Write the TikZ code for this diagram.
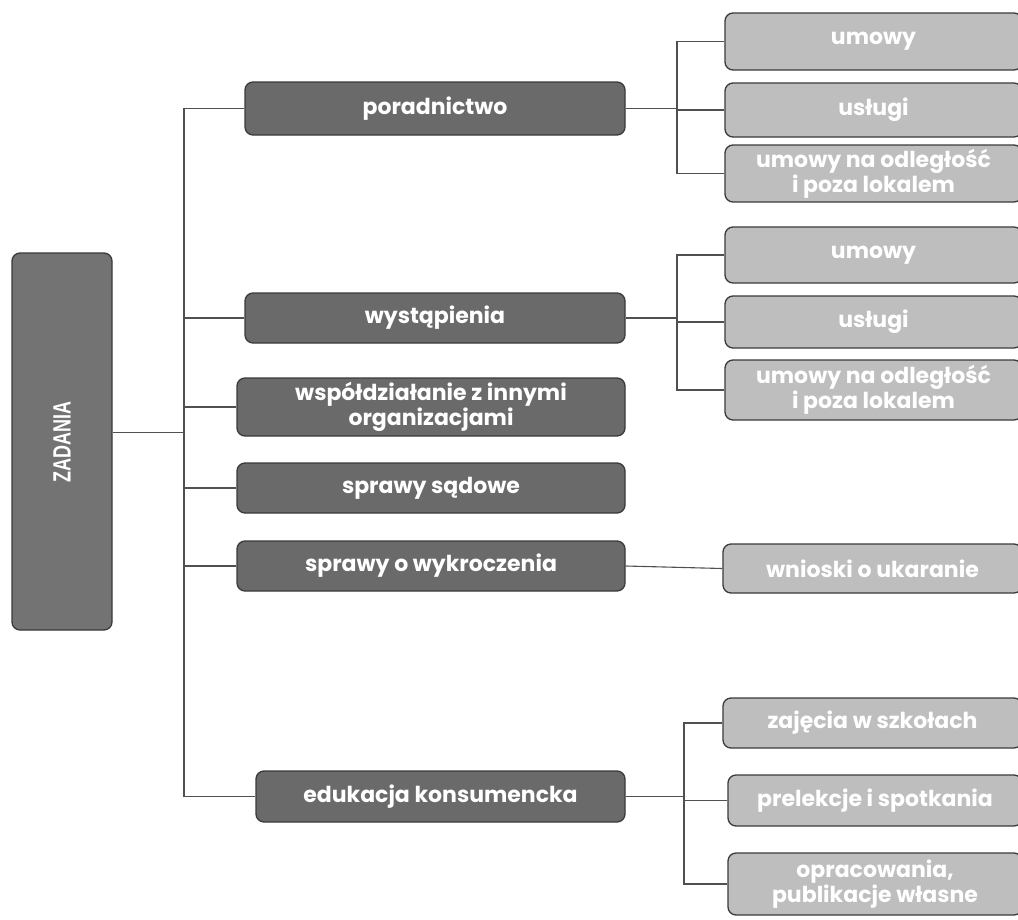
\documentclass[tikz,border=0pt]{standalone}
\usepackage{graphicx}
\usepackage{fontspec}
\setmainfont{Poppins}
\newfontfamily\narrowfont[FakeStretch=0.72]{Liberation Sans Bold}

\definecolor{rootgray}{HTML}{737373}
\definecolor{taskgray}{HTML}{6A6A6A}
\definecolor{subgray}{HTML}{BEBEBE}
\definecolor{boxline}{HTML}{3A3A3A}
\definecolor{linegray}{HTML}{505050}

\tikzset{
    box/.style={draw=boxline, line width=1.3pt, rounded corners=8pt, text=white, align=center, inner sep=0pt},
    rootbox/.style={box, fill=rootgray, font=\narrowfont\fontsize{25}{28}\selectfont},
    taskbox/.style={box, fill=taskgray, font=\bfseries\fontsize{22}{25}\selectfont},
    subbox/.style={box, fill=subgray, font=\bfseries\fontsize{22}{25}\selectfont},
    link/.style={draw=linegray, line width=1.1pt}
}

\begin{document}
\begin{tikzpicture}[x=1pt, y=-1pt]
    \useasboundingbox (0,0) rectangle (1018,919);

    % root
    \node[rootbox, minimum width=100pt, minimum height=377pt] (zad) at (62,441.5) {\rotatebox{90}{ZADANIA}};

    % tasks
    \node[taskbox, minimum width=380pt, minimum height=53pt] (porad) at (435,108.5) {poradnictwo};
    \node[taskbox, minimum width=380pt, minimum height=50pt] (wyst) at (435,318) {wystąpienia};
    \node[taskbox, minimum width=388pt, minimum height=58pt] (wspol) at (431,407) {współdziałanie z innymi\\organizacjami};
    \node[taskbox, minimum width=388pt, minimum height=50pt] (sad) at (431,488) {sprawy sądowe};
    \node[taskbox, minimum width=388pt, minimum height=50pt] (wykr) at (431,566) {sprawy o wykroczenia};
    \node[taskbox, minimum width=369pt, minimum height=51pt] (eduk) at (440.5,796.5) {edukacja konsumencka};

    % sub-tasks
    \node[subbox, minimum width=297pt, minimum height=57pt] (poradA) at (873.5,41.5) {umowy};
    \node[subbox, minimum width=297pt, minimum height=54pt] (poradB) at (873.5,110) {usługi};
    \node[subbox, minimum width=297pt, minimum height=57pt] (poradC) at (873.5,173.5) {umowy na odległość\\i poza lokalem};
    \node[subbox, minimum width=297pt, minimum height=56pt] (wystA) at (873.5,255) {umowy};
    \node[subbox, minimum width=297pt, minimum height=52pt] (wystB) at (873.5,322) {usługi};
    \node[subbox, minimum width=297pt, minimum height=60pt] (wystC) at (873.5,390) {umowy na odległość\\i poza lokalem};
    \node[subbox, minimum width=299pt, minimum height=49pt] (wykrA) at (872.5,568.5) {wnioski o ukaranie};
    \node[subbox, minimum width=299pt, minimum height=50pt] (edukA) at (872.5,723) {zajęcia w szkołach};
    \node[subbox, minimum width=294pt, minimum height=51pt] (edukB) at (875,800.5) {prelekcje i spotkania};
    \node[subbox, minimum width=294pt, minimum height=62pt] (edukC) at (875,884) {opracowania,\\publikacje własne};

    % trunk and brackets
    \coordinate (trunk) at (184,0);
    \coordinate (brA) at (677,0);
    \coordinate (brB) at (677,0);
    \coordinate (brC) at (684,0);

    \draw[link] ([yshift=9pt]zad.east) -- ([yshift=9pt]zad.east -| trunk);
    \draw[link] (porad.west) -- (porad.west -| trunk) -- (eduk.west -| trunk) -- (eduk.west);
    \foreach \t in {wyst, wspol, sad, wykr}
        \draw[link] (\t.west) -- (\t.west -| trunk);

    \draw[link] (porad.east) -- (porad.east -| brA);
    \draw[link] (poradA.west) -- (poradA.west -| brA) -- (poradC.west -| brA) -- (poradC.west);
    \draw[link] (poradB.west) -- (poradB.west -| brA);

    \draw[link] (wyst.east) -- (wyst.east -| brB);
    \draw[link] (wystA.west) -- (wystA.west -| brB) -- (wystC.west -| brB) -- (wystC.west);
    \draw[link] (wystB.west) -- (wystB.west -| brB);

    \draw[link] (wykr.east) -- (wykrA.west);

    \draw[link] (eduk.east) -- (eduk.east -| brC);
    \draw[link] (edukA.west) -- (edukA.west -| brC) -- (edukC.west -| brC) -- (edukC.west);
    \draw[link] (edukB.west) -- (edukB.west -| brC);

\end{tikzpicture}
\end{document}
